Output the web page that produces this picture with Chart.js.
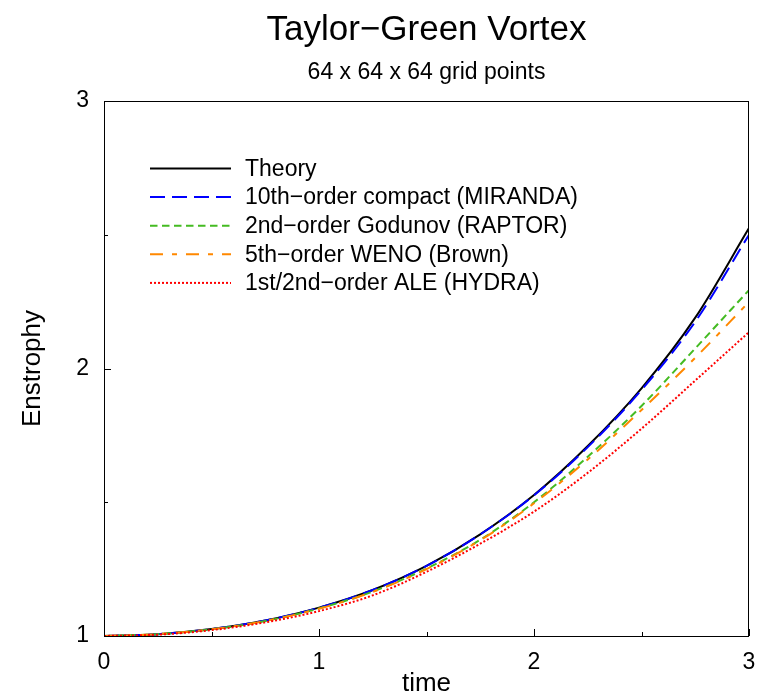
<!DOCTYPE html>
<html>
<head>
<meta charset="utf-8">
<script src="https://cdn.jsdelivr.net/npm/chart.js@4/dist/chart.umd.min.js"></script>
<style>
  html, body { margin: 0; padding: 0; background: #ffffff; }
  #wrap { width: 759px; height: 700px; }
</style>
</head>
<body>
<div id="wrap"><canvas id="c" width="759" height="700"></canvas></div>
<script>
const chartTitle = "Taylor\u2212Green Vortex";
const chartSubtitle = "64 x 64 x 64 grid points";
const xAxisTitle = "time";
const yAxisTitle = "Enstrophy";

const time = [0, 0.25, 0.5, 0.75, 1, 1.25, 1.5, 1.75, 2, 2.25, 2.5, 2.75, 3];
const theory  = [1, 1.007, 1.026, 1.058, 1.106, 1.172, 1.262, 1.380, 1.527, 1.710, 1.926, 2.190, 2.525];
const miranda = [1, 1.007, 1.026, 1.058, 1.106, 1.172, 1.262, 1.380, 1.526, 1.706, 1.920, 2.175, 2.500];
const raptor  = [1, 1.007, 1.025, 1.056, 1.103, 1.166, 1.252, 1.360, 1.500, 1.670, 1.860, 2.075, 2.293];
const brown   = [1, 1.007, 1.025, 1.056, 1.102, 1.165, 1.250, 1.358, 1.496, 1.660, 1.845, 2.040, 2.249];
const hydra   = [1, 1.005, 1.022, 1.051, 1.093, 1.152, 1.240, 1.345, 1.465, 1.610, 1.775, 1.955, 2.136];

const seriesLabels = [
  "Theory",
  "10th\u2212order compact (MIRANDA)",
  "2nd\u2212order Godunov (RAPTOR)",
  "5th\u2212order WENO (Brown)",
  "1st/2nd\u2212order ALE (HYDRA)"
];

const xTicks = [0, 1, 2, 3];
const yTicks = [1, 2, 3];
const xMinorTicks = [0.5, 1.5, 2.5];
const yMinorTicks = [1.5, 2.5];

const FONT = "'Liberation Sans', Arial, Helvetica, sans-serif";

function pts(ys) { return time.map((t, i) => ({ x: t, y: ys[i] })); }

const styles = [
  { color: '#000000', dash: [], order: 5 },
  { color: '#0000ff', dash: [15, 7], order: 4 },
  { color: '#44bb22', dash: [7.5, 4.5], order: 3 },
  { color: '#ff8800', dash: [13, 9, 5, 9], order: 2 },
  { color: '#ff0000', dash: [2, 2], order: 1 }
];
const seriesData = [theory, miranda, raptor, brown, hydra];

const datasets = seriesData.map((ys, i) => ({
  label: seriesLabels[i],
  data: pts(ys),
  borderColor: styles[i].color,
  backgroundColor: styles[i].color,
  borderDash: styles[i].dash,
  borderWidth: 2,
  pointRadius: 0,
  fill: false,
  cubicInterpolationMode: 'monotone',
  order: styles[i].order
}));

const framePlugin = {
  id: 'frame',
  afterDatasetsDraw(chart) {
    const { ctx, chartArea: a, scales } = chart;
    ctx.save();
    ctx.strokeStyle = '#000';
    ctx.lineWidth = 1;
    ctx.setLineDash([]);
    ctx.strokeRect(a.left + 0.5, a.top + 0.5, a.right - a.left - 1, a.bottom - a.top);
    ctx.beginPath();
    xTicks.concat(xMinorTicks).forEach(v => {
      const len = xTicks.includes(v) ? 7 : 4;
      const px = Math.round(scales.x.getPixelForValue(v)) + 0.5;
      ctx.moveTo(px, a.bottom);
      ctx.lineTo(px, a.bottom - len);
    });
    yTicks.concat(yMinorTicks).forEach(v => {
      const len = yTicks.includes(v) ? 7 : 4;
      const py = Math.round(scales.y.getPixelForValue(v)) + 0.5;
      ctx.moveTo(a.left, py);
      ctx.lineTo(a.left + len, py);
    });
    ctx.stroke();
    ctx.restore();
  },
  afterDraw(chart) {
    const { ctx, chartArea: a } = chart;
    ctx.save();
    const cx = (a.left + a.right) / 2;
    ctx.fillStyle = '#000';
    ctx.textAlign = 'center';
    ctx.textBaseline = 'middle';
    ctx.font = '35px ' + FONT;
    ctx.fillText(chartTitle, cx, 30);
    ctx.font = '23px ' + FONT;
    ctx.fillText(chartSubtitle, cx, 73);

    // legend
    const x0 = a.left + 46, x1 = a.left + 127, tx = a.left + 141;
    chart.data.datasets.forEach((ds, i) => {
      const y = a.top + 67.5 + i * 28.6;
      ctx.strokeStyle = ds.borderColor;
      ctx.lineWidth = 2;
      ctx.setLineDash(ds.borderDash);
      ctx.beginPath();
      ctx.moveTo(x0, y);
      ctx.lineTo(x1, y);
      ctx.stroke();
      ctx.setLineDash([]);
      ctx.fillStyle = '#000';
      ctx.textAlign = 'left';
      ctx.textBaseline = 'middle';
      ctx.font = '23px ' + FONT;
      ctx.fillText(ds.label, tx, y + 1);
    });
    ctx.restore();
  }
};

new Chart(document.getElementById('c'), {
  type: 'line',
  data: { datasets },
  plugins: [framePlugin],
  options: {
    responsive: false,
    animation: false,
    devicePixelRatio: 1,
    layout: { padding: { top: 101, right: 10, left: 0, bottom: 0 } },
    plugins: {
      legend: { display: false },
      title: { display: false },
      tooltip: { enabled: false }
    },
    scales: {
      x: {
        type: 'linear',
        min: 0, max: 3,
        afterBuildTicks(scale) { scale.ticks = xTicks.map(v => ({ value: v })); },
        afterFit(scale) { scale.height = 64; scale.paddingLeft = 0; scale.paddingRight = 0; },
        grid: { display: false, drawTicks: false },
        border: { display: false },
        ticks: { color: '#000', font: { family: FONT, size: 23 }, padding: 13, maxRotation: 0 },
        title: { display: true, text: xAxisTitle, color: '#000', font: { family: FONT, size: 26 }, padding: { top: 0, bottom: 1 } }
      },
      y: {
        type: 'linear',
        min: 1, max: 3,
        afterBuildTicks(scale) { scale.ticks = yTicks.map(v => ({ value: v })); },
        afterFit(scale) { scale.width = 104; scale.paddingTop = 0; scale.paddingBottom = 0; },
        grid: { display: false, drawTicks: false },
        border: { display: false },
        ticks: { color: '#000', font: { family: FONT, size: 23 }, padding: 15 },
        title: { display: true, text: yAxisTitle, color: '#000', font: { family: FONT, size: 26 }, padding: { top: 17, bottom: 0 } }
      }
    }
  }
});
</script>
</body>
</html>
